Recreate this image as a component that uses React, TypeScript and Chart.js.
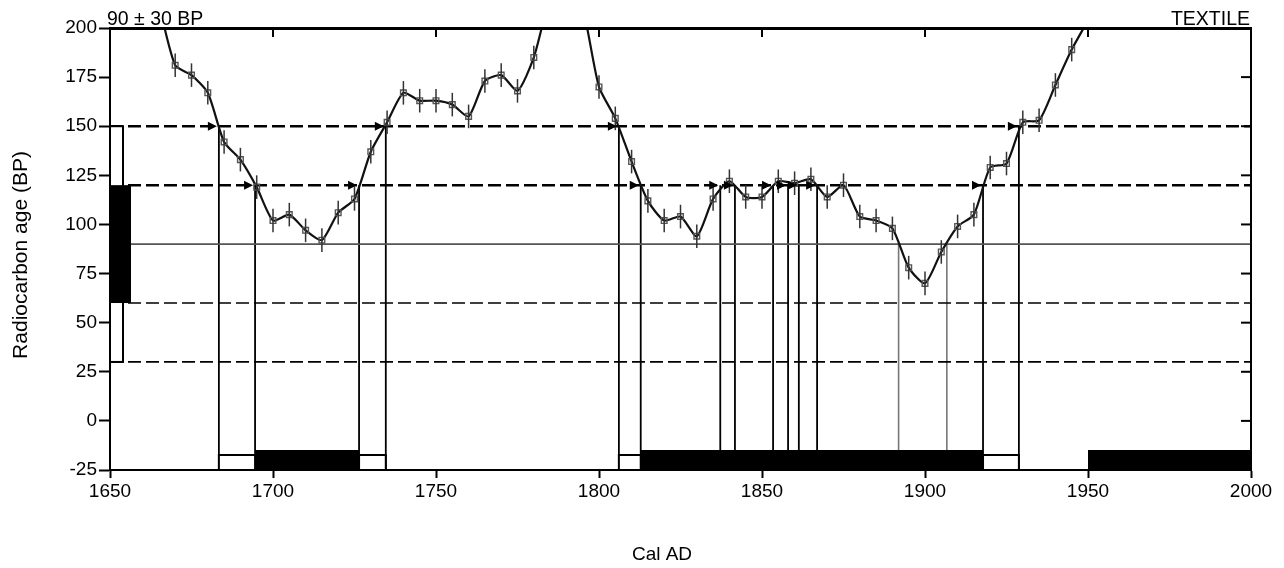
import React, { useEffect, useRef } from "react";
import { Chart, registerables } from "chart.js";

Chart.register(...registerables);

// Calibration curve (Cal AD vs radiocarbon age BP)
const calYears = [
  1665, 1670, 1675, 1680, 1685, 1690, 1695, 1700, 1705, 1710, 1715, 1720, 1725, 1730, 1735,
  1740, 1745, 1750, 1755, 1760, 1765, 1770, 1775, 1780, 1785, 1790, 1795, 1800, 1805, 1810,
  1815, 1820, 1825, 1830, 1835, 1840, 1845, 1850, 1855, 1860, 1865, 1870, 1875, 1880, 1885,
  1890, 1895, 1900, 1905, 1910, 1915, 1920, 1925, 1930, 1935, 1940, 1945, 1950, 1955,
];
const c14Ages = [
  212, 181, 176, 167, 142, 133, 119, 102, 105, 97, 92, 106, 113, 137, 152,
  167, 163, 163, 161, 155, 173, 176, 168, 185, 215, 225, 210, 170, 154, 132,
  112, 102, 104, 94, 113, 122, 114, 114, 122, 121, 123, 114, 120, 104, 102,
  98, 78, 70, 86, 99, 105, 129, 131, 152, 153, 171, 189, 204, 220,
];
const c14Sigma = [
  6, 6, 6, 6, 6, 6, 6, 6, 6, 6, 6, 6, 6, 6, 6,
  6, 6, 6, 6, 6, 6, 6, 6, 6, 6, 6, 6, 6, 6, 6,
  6, 6, 6, 6, 6, 6, 6, 6, 6, 6, 6, 6, 6, 6, 6,
  6, 6, 6, 6, 6, 6, 6, 6, 6, 6, 6, 6, 6, 6,
];

// Sample: 90 ± 30 BP
const sampleMean = 90;
const oneSigmaLevels = [120, 60];
const twoSigmaLevels = [150, 30];

// Intersections of the curve with the levels
const crossings150 = [1683.4, 1734.6, 1806.1, 1928.8];
const crossings120 = [1694.5, 1726.4, 1812.8, 1837.2, 1841.7, 1853.4, 1858.0, 1861.3, 1866.9, 1917.8];
const crossings90 = [1891.9, 1906.7];

// Calibrated ranges
const range1SigmaStart = [1694.5, 1812.8, 1950];
const range1SigmaEnd = [1726.4, 1917.8, 2000];
const range2SigmaStart = [1683.4, 1726.4, 1806.1, 1917.8];
const range2SigmaEnd = [1694.5, 1734.6, 1812.8, 1928.8];

const xMin = 1650;
const xMax = 2000;
const yMin = -25;
const yMax = 200;

const FONT = "'Liberation Sans', Arial, sans-serif";

function vLines(xs: number[], top: number) {
  const out: any[] = [];
  xs.forEach((x) => {
    out.push({ x, y: top });
    out.push({ x, y: yMin });
    out.push({ x, y: null });
  });
  return out;
}

function hLine(y: number) {
  return [
    { x: xMin, y },
    { x: xMax, y },
  ];
}

const overlayPlugin = {
  id: "overlay",
  afterDatasetsDraw(chart: any) {
    const { ctx, chartArea, scales } = chart;
    const xs = scales.x;
    const ys = scales.y;
    const { left, right, top, bottom } = chartArea;
    ctx.save();

    // error bars on curve points (inside area)
    ctx.beginPath();
    ctx.rect(left, top, right - left, bottom - top);
    ctx.clip();
    ctx.strokeStyle = "#333";
    ctx.lineWidth = 1.5;
    calYears.forEach((yr, i) => {
      const px = xs.getPixelForValue(yr);
      const y1 = ys.getPixelForValue(c14Ages[i] + c14Sigma[i]);
      const y2 = ys.getPixelForValue(c14Ages[i] - c14Sigma[i]);
      ctx.beginPath();
      ctx.moveTo(px, y1);
      ctx.lineTo(px, y2);
      ctx.stroke();
    });
    // flat part of the curve running along the top edge
    ctx.lineWidth = 3;
    ctx.strokeStyle = "#000";
    ctx.beginPath();
    ctx.moveTo(left, top + 0.5);
    ctx.lineTo(right, top + 0.5);
    ctx.stroke();
    ctx.restore();
    ctx.save();

    // arrows on level lines
    ctx.fillStyle = "#000";
    const arrow = (xv: number, yv: number) => {
      const px = xs.getPixelForValue(xv) - 2;
      const py = ys.getPixelForValue(yv);
      ctx.beginPath();
      ctx.moveTo(px, py);
      ctx.lineTo(px - 9, py - 4.5);
      ctx.lineTo(px - 9, py + 4.5);
      ctx.closePath();
      ctx.fill();
    };
    crossings150.forEach((x) => arrow(x, twoSigmaLevels[0]));
    crossings120.forEach((x) => arrow(x, oneSigmaLevels[0]));

    // left boxes: 2 sigma (open) and 1 sigma (filled)
    ctx.lineWidth = 2;
    ctx.strokeStyle = "#000";
    ctx.fillStyle = "#fff";
    const wt = ys.getPixelForValue(twoSigmaLevels[0]);
    const wb = ys.getPixelForValue(twoSigmaLevels[1]);
    ctx.fillRect(left, wt, 13, wb - wt);
    ctx.strokeRect(left, wt, 13, wb - wt);
    const bt = ys.getPixelForValue(oneSigmaLevels[0]);
    const bb = ys.getPixelForValue(oneSigmaLevels[1]);
    ctx.fillStyle = "#000";
    ctx.fillRect(left, bt, 21, bb - bt);

    // bottom calibrated ranges
    range2SigmaStart.forEach((a, i) => {
      const x1 = xs.getPixelForValue(a);
      const x2 = xs.getPixelForValue(range2SigmaEnd[i]);
      ctx.fillStyle = "#fff";
      ctx.fillRect(x1, bottom - 15, x2 - x1, 15);
      ctx.strokeRect(x1, bottom - 15, x2 - x1, 15);
    });
    ctx.fillStyle = "#000";
    range1SigmaStart.forEach((a, i) => {
      const x1 = xs.getPixelForValue(a);
      const x2 = xs.getPixelForValue(range1SigmaEnd[i]);
      ctx.fillRect(x1, bottom - 20, x2 - x1, 20);
    });

    // frame
    ctx.lineWidth = 2;
    ctx.strokeStyle = "#000";
    ctx.strokeRect(left, top, right - left, bottom - top);

    // inner ticks top and right
    ctx.lineWidth = 2;
    xs.ticks.forEach((t: any) => {
      if (t.value === xMin || t.value === xMax) return;
      const px = xs.getPixelForValue(t.value);
      ctx.beginPath();
      ctx.moveTo(px, top);
      ctx.lineTo(px, top + 9);
      ctx.stroke();
    });
    ys.ticks.forEach((t: any) => {
      if (t.value === yMin || t.value === yMax) return;
      const py = ys.getPixelForValue(t.value);
      ctx.beginPath();
      ctx.moveTo(right, py);
      ctx.lineTo(right - 10, py);
      ctx.stroke();
    });

    // texts
    ctx.fillStyle = "#000";
    ctx.font = `19.5px ${FONT}`;
    ctx.textBaseline = "alphabetic";
    ctx.textAlign = "left";
    ctx.fillText("90 ± 30 BP", 107, 25);
    ctx.textAlign = "right";
    ctx.fillText("TEXTILE", 1250, 25);
    ctx.font = `19px ${FONT}`;
    ctx.textAlign = "center";
    ctx.textBaseline = "middle";
    ctx.fillText("Cal AD", 662, 555);
    ctx.font = `21px ${FONT}`;
    ctx.translate(21, 255);
    ctx.rotate(-Math.PI / 2);
    ctx.fillText("Radiocarbon age (BP)", 0, 0);
    ctx.restore();
  },
};

export default function App() {
  const ref = useRef<HTMLCanvasElement | null>(null);

  useEffect(() => {
    if (!ref.current) return;
    const curve = calYears.map((x, i) => ({ x, y: c14Ages[i] }));
    const dashed = (y: number, w: number) => ({
      data: hLine(y),
      borderColor: "#000",
      borderWidth: w,
      borderDash: [13, 5],
      pointRadius: 0,
      fill: false,
    });
    const chart = new Chart(ref.current, {
      type: "line",
      data: {
        datasets: [
          {
            data: curve,
            borderColor: "#111",
            borderWidth: 2.2,
            tension: 0.22,
            pointStyle: "rect",
            pointRadius: 4,
            pointBorderColor: "#555",
            pointBackgroundColor: "rgba(255,255,255,0)",
            pointBorderWidth: 1.4,
            fill: false,
          },
          dashed(twoSigmaLevels[0], 2.5),
          dashed(oneSigmaLevels[0], 2.5),
          dashed(oneSigmaLevels[1], 1.7),
          dashed(twoSigmaLevels[1], 1.7),
          {
            data: hLine(sampleMean),
            borderColor: "#555",
            borderWidth: 1.6,
            pointRadius: 0,
            fill: false,
          },
          {
            data: vLines(crossings150, twoSigmaLevels[0]),
            borderColor: "#000",
            borderWidth: 1.8,
            pointRadius: 0,
            spanGaps: false,
            fill: false,
          },
          {
            data: vLines(crossings120, oneSigmaLevels[0]),
            borderColor: "#000",
            borderWidth: 1.8,
            pointRadius: 0,
            spanGaps: false,
            fill: false,
          },
          {
            data: vLines(crossings90, sampleMean),
            borderColor: "#777",
            borderWidth: 1.6,
            pointRadius: 0,
            spanGaps: false,
            fill: false,
          },
        ],
      },
      options: {
        animation: false,
        responsive: false,
        maintainAspectRatio: false,
        layout: { padding: { left: 0, top: 28, right: 33, bottom: 0 } },
        plugins: { legend: { display: false }, tooltip: { enabled: false } },
        elements: { line: { borderCapStyle: "butt" } },
        scales: {
          x: {
            type: "linear",
            min: xMin,
            max: xMax,
            ticks: {
              stepSize: 50,
              color: "#000",
              font: { family: FONT, size: 19 },
              padding: 2,
              maxRotation: 0,
              callback: (v: any) => String(v),
            },
            grid: {
              drawOnChartArea: false,
              drawTicks: true,
              tickLength: 8,
              tickColor: "#000",
              tickWidth: 2,
            },
            border: { display: true, color: "#000", width: 2 },
            afterFit: (s: any) => {
              s.height = 98;
            },
          },
          y: {
            type: "linear",
            min: yMin,
            max: yMax,
            ticks: {
              stepSize: 25,
              color: "#000",
              font: { family: FONT, size: 19 },
              padding: 2,
            },
            grid: {
              drawOnChartArea: false,
              drawTicks: true,
              tickLength: 11,
              tickColor: "#000",
              tickWidth: 2,
            },
            border: { display: true, color: "#000", width: 2 },
            afterFit: (s: any) => {
              s.width = 110;
            },
          },
        },
      },
      plugins: [overlayPlugin],
    });
    return () => chart.destroy();
  }, []);

  return (
    <div style={{ position: "absolute", left: 0, top: 0, width: 1284, height: 568, background: "#fff" }}>
      <canvas ref={ref} width={1284} height={568} style={{ width: 1284, height: 568 }} />
    </div>
  );
}
